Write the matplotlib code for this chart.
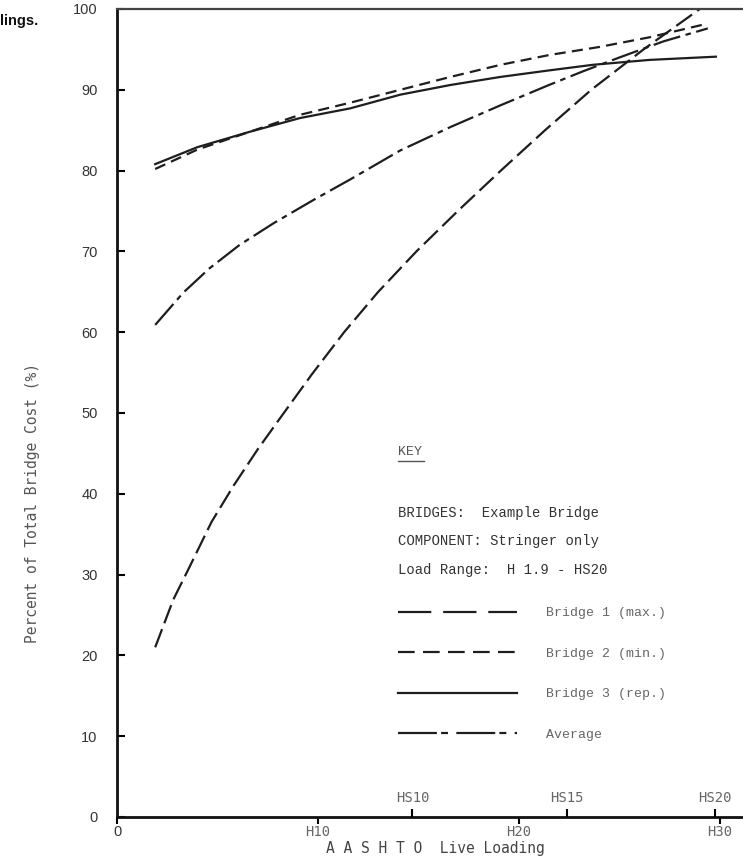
import matplotlib
matplotlib.use("Agg")
import matplotlib.pyplot as plt
from matplotlib.lines import Line2D

plt.rcParams['lines.scale_dashes'] = False

# AASHTO H loading (x) vs percent of total bridge cost (y)
b1_h = [1.9, 2.8, 3.6, 4.7, 5.8, 7.0, 8.3, 9.7, 11.3, 13.0, 14.9, 17.0, 19.1, 21.3, 23.6, 26.2, 29.0]
b1_v = [21.0, 26.9, 30.9, 36.5, 41.0, 45.5, 50.0, 54.8, 60.0, 65.0, 70.0, 75.1, 80.0, 85.0, 90.0, 95.0, 100.0]

b2_h = [1.9, 4.0, 6.6, 9.1, 11.6, 14.1, 16.6, 19.1, 21.5, 24.0, 26.5, 29.4]
b2_v = [80.2, 82.6, 84.8, 86.9, 88.4, 90.0, 91.6, 93.1, 94.3, 95.3, 96.5, 98.2]

b3_h = [1.9, 4.0, 6.6, 9.1, 11.6, 14.1, 16.6, 19.1, 21.5, 23.7, 26.5, 29.8]
b3_v = [80.8, 82.9, 84.8, 86.5, 87.7, 89.4, 90.6, 91.6, 92.4, 93.1, 93.7, 94.1]

avg_h = [1.9, 3.3, 4.6, 6.1, 7.8, 9.8, 11.6, 14.1, 16.6, 19.1, 21.5, 23.2, 25.0, 27.2, 29.4]
avg_v = [60.9, 64.9, 67.9, 70.8, 73.5, 76.4, 78.9, 82.5, 85.4, 88.1, 90.6, 92.3, 94.0, 96.0, 97.6]

y_ticks = list(range(0, 101, 10))
h_ticks = [0, 10, 20, 30]
h_labels = ['0', 'H10', 'H20', 'H30']
hs_pos = [14.7, 22.4, 29.75]
hs_labels = ['HS10', 'HS15', 'HS20']

key_lines = ['BRIDGES:  Example Bridge', 'COMPONENT: Stringer only', 'Load Range:  H 1.9 - HS20']
series_names = ['Bridge 1 (max.)', 'Bridge 2 (min.)', 'Bridge 3 (rep.)', 'Average']

W, H = 743, 861
fig = plt.figure(figsize=(W / 100, H / 100), dpi=100)
ax = fig.add_axes([117 / W, 1 - 817 / H, 1 - 117 / W, (817 - 9) / H])
ax.set_xlim(0, 31.15)
ax.set_ylim(0, 100)

ink = '#1e1e1e'
ax.plot(b1_h, b1_v, color=ink, lw=1.6, dashes=(14, 4.5))
ax.plot(b2_h, b2_v, color=ink, lw=1.6, dashes=(8, 4.5))
ax.plot(b3_h, b3_v, color=ink, lw=1.6)
ax.plot(avg_h, avg_v, color=ink, lw=1.6, dashes=(20, 4, 4, 4))

# spines
ax.spines['right'].set_visible(False)
ax.spines['top'].set_color('#444')
ax.spines['top'].set_linewidth(1.6)
for s in ['left', 'bottom']:
    ax.spines[s].set_linewidth(2)
    ax.spines[s].set_color('#111')

ax.set_yticks(y_ticks)
ax.tick_params(axis='y', direction='in', length=6, width=1.5, pad=14,
               labelsize=10.5, labelcolor='#333')
plt.setp(ax.get_yticklabels(), family='Liberation Sans')

ax.set_xticks(h_ticks, h_labels)
ax.tick_params(axis='x', direction='out', length=5, width=1.5, pad=1,
               labelsize=10, labelcolor='#666')
plt.setp(ax.get_xticklabels(), family='DejaVu Sans Mono')
xl = ax.get_xticklabels()
xl[0].set_fontfamily('Liberation Sans')
xl[0].set_color('#333')
xl[0].set_fontsize(10.5)
ax.xaxis.get_major_ticks()[0].tick1line.set_visible(False)

# HS loadings marked above the axis line
ax2 = ax.twiny()
ax2.set_xlim(ax.get_xlim())
ax2.spines['top'].set_position(('axes', 0))
for s in ax2.spines.values():
    s.set_visible(False)
ax2.set_xticks(hs_pos, hs_labels)
ax2.tick_params(axis='x', direction='out', length=6, width=1.5, pad=3,
                labelsize=10, labelcolor='#666')
plt.setp(ax2.get_xticklabels(), family='DejaVu Sans Mono')

# axis titles
fig.text(33 / W, 1 - 503 / H, 'Percent of Total Bridge Cost (%)', rotation=90,
         family='DejaVu Sans Mono', size=10.5, color='#555', ha='center', va='center')
fig.text(435 / W, 1 - 848 / H, 'A A S H T O  Live Loading',
         family='DejaVu Sans Mono', size=10.5, color='#444', ha='center', va='center')
fig.text(0, 1 - 21 / H, 'lings.', family='Liberation Sans', fontweight='bold',
         size=10.5, color='#111', va='center')

# key block
fig.text(398 / W, 1 - 452 / H, 'KEY', family='Liberation Mono', size=9.5,
         color='#555', va='center')
fig.add_artist(Line2D([398 / W, 424 / W], [1 - 461 / H, 1 - 461 / H],
                      color='#555', lw=1))
for i, t in enumerate(key_lines):
    fig.text(398 / W, 1 - (513 + 28.5 * i) / H, t, family='Liberation Mono',
             size=10, color='#333', va='center')

handles = [
    Line2D([], [], color=ink, lw=1.6, dashes=(24, 8.5)),
    Line2D([], [], color=ink, lw=1.6, dashes=(12, 6)),
    Line2D([], [], color=ink, lw=1.6),
    Line2D([], [], color=ink, lw=1.6, dashes=(28, 3, 5, 6)),
]
leg = ax.legend(handles, series_names, loc='upper left',
                bbox_to_anchor=(398 / W, 1 - 607 / H), bbox_transform=fig.transFigure,
                frameon=False, borderpad=0, borderaxespad=0, handlelength=9.0,
                handletextpad=2.2, labelspacing=2.15,
                prop={'family': 'Liberation Mono', 'size': 9.5})
for t in leg.get_texts():
    t.set_color('#666')

plt.savefig('out.png', dpi=100)
